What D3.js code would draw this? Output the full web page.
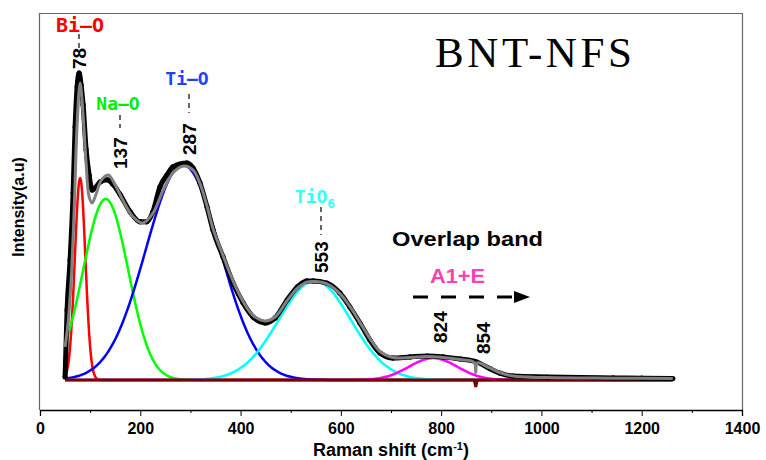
<!DOCTYPE html>
<html>
<head>
<meta charset="utf-8">
<script src="https://cdn.jsdelivr.net/npm/d3@7"></script>
<style>
  body { margin: 0; background: #fff; }
</style>
</head>
<body>
<div id="canvas"></div>
<script>
"use strict"

let ramanX = [50, 54, 60, 66, 70, 74, 78, 82, 86, 92, 98, 104, 110, 120, 134, 145, 160, 180, 200, 212,
  225, 239, 253, 265, 293, 305, 319, 333, 345, 365, 385, 405, 425, 449, 469, 493, 513, 532, 545, 572,
  598, 618, 638, 658, 678, 704, 738, 772, 804, 838, 871, 897, 917, 944, 1011, 1080, 1143, 1200, 1262];
let ramanY = [10, 233, 400, 623, 843, 977, 1023, 983, 917, 767, 683, 633, 640, 660, 667, 653, 617, 560, 527, 527,
  560, 643, 683, 710, 723, 707, 657, 577, 500, 410, 323, 257, 210, 190, 207, 267, 310, 330, 330, 323,
  290, 243, 190, 133, 90, 73, 77, 80, 77, 70, 60, 38, 23, 13, 10, 8, 7, 6, 5];

/* cumulative fit (grey) */
let fitX = [50, 56, 62, 68, 74, 80, 86, 92, 98, 104, 112, 122, 136, 150, 165, 185, 205, 225, 245, 265,
  287, 305, 319, 333, 345, 365, 385, 405, 425, 449, 469, 493, 513, 532, 548, 572, 598, 618, 638, 658,
  678, 704, 738, 772, 804, 838, 866, 869, 872, 897, 917, 944, 1011, 1143, 1262];
let fitY = [110, 190, 330, 560, 850, 990, 880, 720, 610, 590, 620, 665, 683, 650, 600, 545, 523, 555, 630, 690,
  713, 700, 655, 580, 505, 415, 330, 262, 215, 197, 210, 265, 305, 326, 328, 320, 288, 245, 192, 138,
  95, 75, 75, 78, 75, 68, 58, 25, 57, 40, 25, 13, 8, 6, 5];

/* baseline (dark red) */
let baseX = [50, 866, 869, 872, 1262];
let baseY = [0, 0, -23, 0, 0];

/* fitted Gaussian peaks: centre, height, sigma */
let peakCenters = [80, 131, 285, 548, 784];
let peakHeights = [673, 603, 717, 330, 73];
let peakSigmas = [10.5, 45, 74, 72, 48];
let peakColors = ["#ff0000", "#00ff00", "#0000ff", "#00ffff", "#ff00ff"];

/* annotations */
let bandNames = ["Bi\u2013O", "Na\u2013O", "Ti\u2013O", "TiO"];
let bandPeaks = ["78", "137", "287", "553"];
let overlapPeaks = ["824", "854"];
let xTicks = [0, 200, 400, 600, 800, 1000, 1200, 1400];

let sans = "Liberation Sans, Arial, sans-serif";
let mono = "DejaVu Sans Mono, Liberation Mono, monospace";

let svgWidth = 766;
let svgHeight = 460;

let svg = d3.select("#canvas")
  .append("svg")
  .attr("width", svgWidth)
  .attr("height", svgHeight)
  .style("font-family", sans);

let xScale = d3.scaleLinear().domain([0, 1400]).range([40, 742]);
let yScale = d3.scaleLinear().domain([-100, 1223]).range([410, 13]);

/* frame */
svg.append("path")
  .attr("d", "M39.5,410 V13.5 H742.5 V410")
  .attr("fill", "none")
  .attr("stroke", "#666")
  .attr("stroke-width", 1.2);

/* x axis */
let xAxis = svg.append("g")
  .attr("transform", "translate(0,410)")
  .call(d3.axisBottom(xScale).tickValues(xTicks).tickSize(6).tickFormat(d3.format("d")));
xAxis.select(".domain").attr("stroke-width", 1.3);
xAxis.selectAll("text")
  .style("font-family", sans)
  .style("font-weight", "bold")
  .style("font-size", "16px")
  .attr("fill", "#000")
  .attr("dy", "0.95em");
svg.append("g")
  .attr("transform", "translate(0,410)")
  .call(d3.axisBottom(xScale).tickValues(d3.range(100, 1400, 200)).tickSize(3).tickFormat(""))
  .select(".domain").remove();

svg.append("text")
  .attr("x", 391)
  .attr("y", 456)
  .attr("text-anchor", "middle")
  .style("font-weight", "bold")
  .style("font-size", "18px")
  .html('Raman shift (cm<tspan baseline-shift="super" style="font-size:11px">-1</tspan>)');

svg.append("text")
  .attr("transform", "rotate(-90)")
  .attr("x", -207)
  .attr("y", 24)
  .attr("text-anchor", "middle")
  .style("font-weight", "bold")
  .style("font-size", "16px")
  .text("Intensity(a.u)");

/* title */
svg.append("text")
  .attr("x", 435)
  .attr("y", 67)
  .attr("textLength", 197)
  .attr("lengthAdjust", "spacing")
  .style("font-family", "Liberation Serif, Times New Roman, serif")
  .style("font-size", "43px")
  .text("BNT-NFS");

let line = d3.line()
  .x(d => xScale(d[0]))
  .y(d => yScale(d[1]))
  .curve(d3.curveMonotoneX);

/* gaussian components */
let grid = d3.range(50, 1263, 2);
peakCenters.forEach((c, i) => {
  let pts = grid.map(v => [v, peakHeights[i] * Math.exp(-((v - c) ** 2) / (2 * peakSigmas[i] ** 2))]);
  svg.append("path")
    .attr("d", line(pts))
    .attr("fill", "none")
    .attr("stroke", peakColors[i])
    .attr("stroke-width", 2.5);
});

/* baseline */
svg.append("path")
  .attr("d", d3.line().x(d => xScale(d[0])).y(d => yScale(d[1]))(d3.zip(baseX, baseY)))
  .attr("fill", "none")
  .attr("stroke", "#7a0000")
  .attr("stroke-width", 3);

/* measured data */
let data = d3.zip(ramanX, ramanY);
svg.append("path")
  .attr("d", line(data))
  .attr("fill", "none")
  .attr("stroke", "#000")
  .attr("stroke-width", 5)
  .attr("stroke-linejoin", "round");
svg.selectAll("circle.pt")
  .data(data)
  .join("circle")
  .attr("class", "pt")
  .attr("cx", d => xScale(d[0]))
  .attr("cy", d => yScale(d[1]))
  .attr("r", 2.6)
  .attr("fill", "#000");

/* fit */
svg.append("path")
  .attr("d", d3.line().x(d => xScale(d[0])).y(d => yScale(d[1])).curve(d3.curveCatmullRom)(d3.zip(fitX, fitY)))
  .attr("fill", "none")
  .attr("stroke", "#808080")
  .attr("stroke-width", 3)
  .attr("stroke-linejoin", "round");

/* band labels */
let labelPos = [[80, 32, 20], [118, 110, 18], [187, 85, 18], [315, 203, 18]];
let labelCol = ["#ff0000", "#00ee00", "#2040ff", "#33ffff"];
bandNames.forEach((n, i) => {
  let t = svg.append("text")
    .attr("x", labelPos[i][0])
    .attr("y", labelPos[i][1])
    .attr("text-anchor", "middle")
    .style("font-family", mono)
    .style("font-weight", "bold")
    .style("font-size", labelPos[i][2] + "px")
    .attr("fill", labelCol[i])
    .text(n);
  if (i === 3) {
    t.append("tspan").attr("dy", 5).style("font-size", "13px").text("6");
  }
});

/* dashed leaders and rotated peak values */
let leaders = [[79, 34, 48, 69], [120, 115, 128, 169], [189, 94, 113, 155], [321, 207, 235, 273]];
leaders.forEach((l, i) => {
  svg.append("line")
    .attr("x1", l[0]).attr("x2", l[0])
    .attr("y1", l[1]).attr("y2", l[2])
    .attr("stroke", "#000")
    .attr("stroke-width", 1.2)
    .attr("stroke-dasharray", "5,4");
  svg.append("text")
    .attr("transform", `translate(${l[0] + 7},${l[3]}) rotate(-90)`)
    .style("font-weight", "bold")
    .style("font-size", "19px")
    .text(bandPeaks[i]);
});

svg.append("text")
  .attr("x", 392).attr("y", 246)
  .attr("textLength", 151)
  .attr("lengthAdjust", "spacingAndGlyphs")
  .style("font-weight", "bold").style("font-size", "20px")
  .text("Overlap band");
svg.append("text")
  .attr("x", 430).attr("y", 283)
  .attr("textLength", 55)
  .attr("lengthAdjust", "spacingAndGlyphs")
  .style("font-weight", "bold").style("font-size", "20px")
  .attr("fill", "#ff40b0")
  .text("A1+E");

/* dashed arrow */
svg.append("line")
  .attr("x1", 413).attr("x2", 518)
  .attr("y1", 297).attr("y2", 297)
  .attr("stroke", "#000").attr("stroke-width", 3)
  .attr("stroke-dasharray", "15,13");
svg.append("path")
  .attr("d", "M530,297 L514,291 L514,303 Z")
  .attr("fill", "#000");

let overlapPos = [[447, 343], [490, 354]];
overlapPeaks.forEach((p, i) => {
  svg.append("text")
    .attr("transform", `translate(${overlapPos[i][0]},${overlapPos[i][1]}) rotate(-90)`)
    .style("font-weight", "bold")
    .style("font-size", "19px")
    .text(p);
});
</script>
</body>
</html>
